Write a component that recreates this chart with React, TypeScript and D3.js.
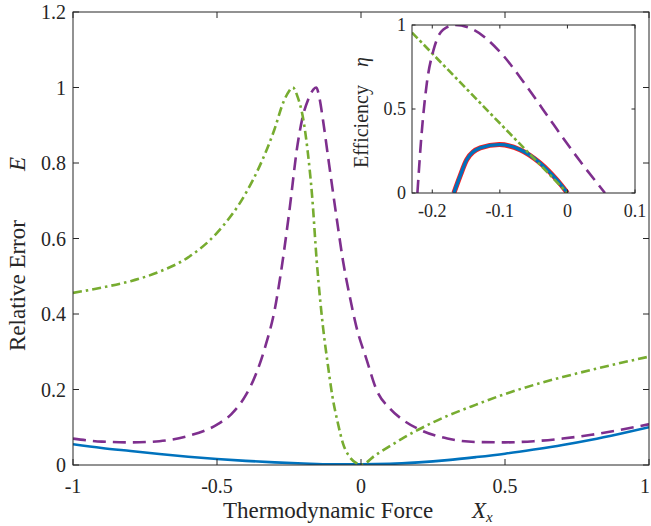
import React, { useEffect, useRef } from "react";
import * as d3 from "d3";

// Main panel: relative error E versus thermodynamic force X_x
const forceBlue = [-1, -0.9, -0.8, -0.7, -0.6, -0.5, -0.4, -0.3, -0.2, -0.1, 0, 0.1, 0.2, 0.3, 0.4, 0.5, 0.6, 0.7, 0.8, 0.9, 1];
const errorBlue = [0.055, 0.045, 0.037, 0.029, 0.022, 0.016, 0.011, 0.007, 0.004, 0.002, 0.002, 0.003, 0.007, 0.013, 0.021, 0.03, 0.041, 0.053, 0.067, 0.083, 0.1];

const forcePurple = [-1, -0.9, -0.8, -0.7, -0.6, -0.5, -0.45, -0.4, -0.36, -0.33, -0.3, -0.28, -0.25, -0.22, -0.2, -0.184, -0.165, -0.155, -0.145, -0.132, -0.115, -0.097, -0.08, -0.063, -0.04, -0.016, 0.02, 0.054, 0.1, 0.15, 0.2, 0.3, 0.4, 0.5, 0.6, 0.7, 0.8, 0.9, 1];
const errorPurple = [0.07, 0.062, 0.06, 0.063, 0.077, 0.107, 0.135, 0.185, 0.25, 0.32, 0.41, 0.5, 0.665, 0.85, 0.93, 0.967, 0.995, 1.0, 0.975, 0.914, 0.82, 0.721, 0.63, 0.543, 0.45, 0.366, 0.278, 0.199, 0.15, 0.117, 0.095, 0.07, 0.061, 0.06, 0.063, 0.07, 0.08, 0.093, 0.108];

const forceGreen = [-1, -0.9, -0.8, -0.7, -0.6, -0.5, -0.4, -0.35, -0.3, -0.27, -0.25, -0.237, -0.22, -0.2, -0.185, -0.17, -0.154, -0.132, -0.115, -0.1, -0.08, -0.063, -0.04, -0.016, 0, 0.05, 0.1, 0.15, 0.2, 0.3, 0.4, 0.5, 0.6, 0.7, 0.8, 0.9, 1];
const errorGreen = [0.456, 0.47, 0.487, 0.512, 0.55, 0.615, 0.72, 0.795, 0.89, 0.96, 0.99, 1.0, 0.975, 0.914, 0.83, 0.715, 0.543, 0.366, 0.265, 0.185, 0.11, 0.058, 0.022, 0.005, 0, 0.026, 0.05, 0.073, 0.094, 0.13, 0.16, 0.188, 0.212, 0.233, 0.252, 0.27, 0.287];

const mainXTicks = [-1, -0.5, 0, 0.5, 1];
const mainXTickLabels = ["-1", "-0.5", "0", "0.5", "1"];
const mainYTicks = [0, 0.2, 0.4, 0.6, 0.8, 1, 1.2];
const mainYTickLabels = ["0", "0.2", "0.4", "0.6", "0.8", "1", "1.2"];

// Inset: efficiency eta versus X_x
const insetForceBlue = [-0.168, -0.159, -0.149, -0.129, -0.1008, -0.0702, -0.0406, -0.0159, 0];
const insetEtaBlue = [0, 0.099, 0.198, 0.268, 0.288, 0.258, 0.179, 0.079, 0];

const insetForcePurple = [-0.222, -0.2157, -0.208, -0.198, -0.184, -0.166, -0.139, -0.0998, -0.0603, -0.021, 0.0186, 0.0556];
const insetEtaPurple = [0, 0.357, 0.655, 0.853, 0.972, 1.0, 0.972, 0.84, 0.635, 0.41, 0.19, 0];

const insetForceGreen = [-0.23, 0];
const insetEtaGreen = [0.955, 0];

const insetXTicks = [-0.2, -0.1, 0, 0.1];
const insetXTickLabels = ["-0.2", "-0.1", "0", "0.1"];
const insetYTicks = [0, 0.5, 1];
const insetYTickLabels = ["0", "0.5", "1"];

const BLUE = "#0072BD";
const PURPLE = "#7E2F8E";
const GREEN = "#77AC30";
const RED = "#FF1A1A";
const AXIS = "#262626";
const FONT = `"Liberation Serif", "Times New Roman", serif`;

const W = 651;
const H = 526;
const M = { left: 73, top: 12, right: 649, bottom: 465 };
const I = { left: 412, top: 25, right: 635, bottom: 193 };

const zip = (xs: number[], ys: number[]) => xs.map((x, i) => [x, ys[i]] as [number, number]);

export default function App() {
  const svgRef = useRef<SVGSVGElement>(null);

  // enforce the serif face on every label
  useEffect(() => {
    if (!svgRef.current) return;
    d3.select(svgRef.current).selectAll("text, tspan").style("font-family", FONT, "important");
  }, []);

  const x = d3.scaleLinear().domain([-1, 1]).range([M.left, M.right]);
  const y = d3.scaleLinear().domain([0, 1.2]).range([M.bottom, M.top]);
  const ix = d3.scaleLinear().domain([-0.23, 0.1]).range([I.left, I.right]);
  const iy = d3.scaleLinear().domain([0, 1]).range([I.bottom, I.top]);

  const mainLine = d3
    .line<[number, number]>()
    .x((d) => x(d[0]))
    .y((d) => y(d[1]))
    .curve(d3.curveMonotoneX);
  const insetLine = d3
    .line<[number, number]>()
    .x((d) => ix(d[0]))
    .y((d) => iy(d[1]))
    .curve(d3.curveMonotoneX);

  const mt = 6;
  const it = 3.5;

  return (
    <svg ref={svgRef} width={W} height={H} fontFamily={FONT} style={{ position: "absolute", left: 0, top: 0, background: "#fff" }}>
      <defs>
        <clipPath id="mainClip">
          <rect x={M.left} y={M.top} width={M.right - M.left} height={M.bottom - M.top} />
        </clipPath>
        <clipPath id="insetClip">
          <rect x={I.left} y={I.top} width={I.right - I.left} height={I.bottom - I.top} />
        </clipPath>
      </defs>

      {/* main curves */}
      <g clipPath="url(#mainClip)" fill="none" strokeLinejoin="round">
        <path d={mainLine(zip(forceBlue, errorBlue)) || ""} stroke={BLUE} strokeWidth={2.6} />
        <path d={mainLine(zip(forcePurple, errorPurple)) || ""} stroke={PURPLE} strokeWidth={2.6} strokeDasharray="13,7" />
        <path d={mainLine(zip(forceGreen, errorGreen)) || ""} stroke={GREEN} strokeWidth={2.6} strokeDasharray="9,4,2.5,4" />
      </g>

      {/* main axes box and ticks */}
      <g stroke={AXIS} strokeWidth={1} fill="none">
        <rect x={M.left} y={M.top} width={M.right - M.left} height={M.bottom - M.top} />
        {mainXTicks.map((t) => (
          <g key={"mx" + t}>
            <line x1={x(t)} x2={x(t)} y1={M.bottom} y2={M.bottom - mt} />
            <line x1={x(t)} x2={x(t)} y1={M.top} y2={M.top + mt} />
          </g>
        ))}
        {mainYTicks.map((t) => (
          <g key={"my" + t}>
            <line x1={M.left} x2={M.left + mt} y1={y(t)} y2={y(t)} />
            <line x1={M.right} x2={M.right - mt} y1={y(t)} y2={y(t)} />
          </g>
        ))}
      </g>
      {mainXTicks.map((t, i) => (
        <text key={"mxl" + t} x={Math.min(x(t), 645)} y={493} textAnchor="middle" fill={AXIS} fontSize={20}>
          {mainXTickLabels[i]}
        </text>
      ))}
      {mainYTicks.map((t, i) => (
        <text key={"myl" + t} x={M.left - 7} y={y(t) + 7} textAnchor="end" fill={AXIS} fontSize={20}>
          {mainYTickLabels[i]}
        </text>
      ))}
      <text x={223} y={518} fill={AXIS} fontSize={23}>
        Thermodynamic Force
      </text>
      <text x={472} y={518} fill={AXIS} fontStyle="italic" fontSize={23}>
        X
        <tspan fontSize={15} dy={4}>x</tspan>
      </text>
      <text transform="translate(25, 351) rotate(-90)" fill={AXIS} fontSize={23}>
        Relative Error
        <tspan x={180} fontStyle="italic">E</tspan>
      </text>

      {/* inset */}
      <rect x={I.left} y={I.top} width={I.right - I.left} height={I.bottom - I.top} fill="#fff" />
      <g clipPath="url(#insetClip)" fill="none" strokeLinejoin="round">
        <path d={insetLine(zip(insetForceBlue, insetEtaBlue)) || ""} stroke={RED} strokeWidth={5} />
        <path d={insetLine(zip(insetForceBlue, insetEtaBlue)) || ""} stroke={BLUE} strokeWidth={3.4} />
        <path d={insetLine(zip(insetForceGreen, insetEtaGreen)) || ""} stroke={GREEN} strokeWidth={2.6} strokeDasharray="8,3,3,3" />
        <path d={insetLine(zip(insetForcePurple, insetEtaPurple)) || ""} stroke={PURPLE} strokeWidth={2.6} strokeDasharray="13,7" />
      </g>
      <g stroke={AXIS} strokeWidth={1} fill="none">
        <rect x={I.left} y={I.top} width={I.right - I.left} height={I.bottom - I.top} />
        {insetXTicks.map((t) => (
          <g key={"ix" + t}>
            <line x1={ix(t)} x2={ix(t)} y1={I.bottom} y2={I.bottom - it} />
            <line x1={ix(t)} x2={ix(t)} y1={I.top} y2={I.top + it} />
          </g>
        ))}
        {insetYTicks.map((t) => (
          <g key={"iy" + t}>
            <line x1={I.left} x2={I.left + it} y1={iy(t)} y2={iy(t)} />
            <line x1={I.right} x2={I.right - it} y1={iy(t)} y2={iy(t)} />
          </g>
        ))}
      </g>
      {insetXTicks.map((t, i) => (
        <text key={"ixl" + t} x={ix(t)} y={217} textAnchor="middle" fill={AXIS} fontSize={18}>
          {insetXTickLabels[i]}
        </text>
      ))}
      {insetYTicks.map((t, i) => (
        <text key={"iyl" + t} x={I.left - 6} y={iy(t) + 6} textAnchor="end" fill={AXIS} fontSize={18}>
          {insetYTickLabels[i]}
        </text>
      ))}
      <text transform="translate(368, 168) rotate(-90)" fill={AXIS} fontSize={20}>
        Efficiency
        <tspan x={101} fontStyle="italic">η</tspan>
      </text>
    </svg>
  );
}
